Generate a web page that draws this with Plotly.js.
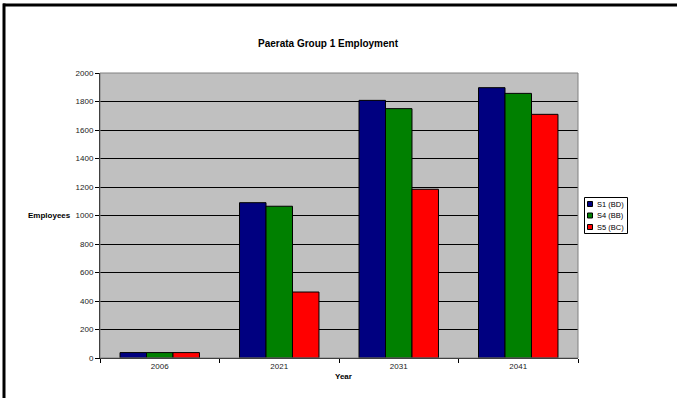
<!DOCTYPE html>
<html>
<head>
<meta charset="utf-8">
<script src="https://cdn.plot.ly/plotly-3.0.1.min.js"></script>
<style>html,body{margin:0;padding:0;background:#fff;}#chart{width:677px;height:398px;}</style>
</head>
<body>
<div id="chart"></div>
<script>
const years = ["2006", "2021", "2031", "2041"];
const seriesNames = ["S1 (BD)", "S4 (BB)", "S5 (BC)"];
const s1 = [38, 1090, 1808, 1897];
const s4 = [38, 1065, 1750, 1857];
const s5 = [38, 463, 1184, 1710];
const colors = ["#000080", "#008000", "#ff0000"];
const yTicks = [0, 200, 400, 600, 800, 1000, 1200, 1400, 1600, 1800, 2000];

const font = "Liberation Sans, Arial, sans-serif";
const traces = [s1, s4, s5].map((vals, i) => ({
  type: "bar", x: years, y: vals, name: seriesNames[i],
  marker: {color: colors[i], line: {color: "#000", width: 1}}
}));

// plot area geometry (pixels) used to place the hand-built legend
const W = 677, H = 398, ML = 100, MR = 99, MT = 73, MB = 40;
const PW = W - ML - MR, PH = H - MT - MB;
const px = p => (p - ML) / PW;
const py = p => (H - MB - p) / PH;

const shapes = [
  {type: "rect", xref: "paper", yref: "paper", x0: 0, x1: 1, y0: 0, y1: 1, line: {color: "#808080", width: 1}, layer: "above"},
  {type: "line", xref: "paper", yref: "paper", x0: px(3), x1: px(700), y0: py(5), y1: py(5), line: {color: "#000", width: 3}},
  {type: "line", xref: "paper", yref: "paper", x0: px(4), x1: px(4), y0: py(3.5), y1: py(420), line: {color: "#000", width: 3}},
  {type: "rect", xref: "paper", yref: "paper", x0: px(584.5), x1: px(627.5), y0: py(197.5), y1: py(233.5), line: {color: "#000", width: 1}, fillcolor: "#fff"}
];
const annotations = [
  {text: "<b>Employees</b>", xref: "paper", yref: "paper", x: px(73), y: 0.5, xanchor: "right", yanchor: "middle", showarrow: false, font: {size: 8, color: "#000"}},
  {text: "<b>Year</b>", xref: "paper", yref: "paper", x: px(343), y: py(376), xanchor: "center", yanchor: "middle", showarrow: false, font: {size: 8, color: "#000"}}
];
seriesNames.forEach((name, i) => {
  const cy = 204 + i * 11.5;
  shapes.push({type: "rect", xref: "paper", yref: "paper", x0: px(587.5), x1: px(592.5), y0: py(cy - 2.5), y1: py(cy + 2.5), line: {color: "#000", width: 1}, fillcolor: colors[i]});
  annotations.push({text: name, xref: "paper", yref: "paper", x: px(595), y: py(cy), xanchor: "left", yanchor: "middle", showarrow: false, font: {size: 7.5, color: "#000"}});
});

const layout = {
  width: W, height: H,
  margin: {l: ML, r: MR, t: MT, b: MB},
  paper_bgcolor: "#fff", plot_bgcolor: "#c0c0c0",
  barmode: "group", bargap: 0.335, bargroupgap: 0,
  title: {text: "<b>Paerata Group 1 Employment</b>", font: {family: font, size: 10, color: "#000"}, x: 328 / W, xanchor: "center", y: 1 - 43 / H, yanchor: "middle"},
  font: {family: font, size: 8, color: "#222"},
  xaxis: {type: "category", showline: true, linecolor: "#000", linewidth: 1, ticks: "outside", tickson: "boundaries", ticklen: 4, tickcolor: "#000", showgrid: false, tickfont: {size: 8, color: "#222"}},
  yaxis: {range: [0, 2000], tickvals: yTicks, showline: true, linecolor: "#000", linewidth: 1, ticks: "outside", ticklen: 4, tickcolor: "#000", showgrid: true, gridcolor: "#000", gridwidth: 1, zeroline: false, tickfont: {size: 8, color: "#222"}},
  showlegend: false,
  annotations: annotations,
  shapes: shapes
};
Plotly.newPlot("chart", traces, layout, {displayModeBar: false, staticPlot: true});
</script>
</body>
</html>
